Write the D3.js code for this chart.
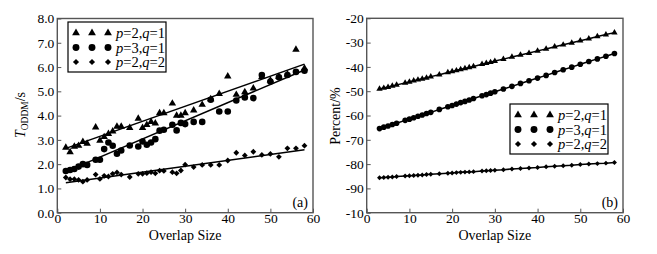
<!DOCTYPE html>
<html lang="en">
<head>
    <meta charset="UTF-8">
    <title>overlap size</title>
    <script src="https://d3js.org/d3.v7.min.js"></script>
    <style>
        body { margin: 0; background: #fff; }
        text { font-family: "Liberation Serif", "Times New Roman", serif; }
    </style>
</head>
<body>
    <svg></svg>
    <script>
        // panel (a): running time
        const xA = [2, 3, 4, 5, 6, 7, 9, 10, 11, 12, 13, 14, 15, 17, 19, 20, 21, 22, 23, 24, 25, 27, 28, 29, 30, 32, 34, 36, 38, 40, 42, 44, 46, 48, 50, 52, 54, 56, 58];
        const timeP2Q1 = [2.68, 2.5, 2.72, 2.76, 2.92, 2.85, 3.52, 2.97, 3.12, 3.25, 3.35, 3.55, 3.55, 3.5, 3.88, 3.5, 3.62, 3.74, 3.68, 4.1, 4.1, 4.5, 4.0, 4.0, 4.1, 4.22, 4.45, 4.68, 4.9, 5.62, 4.86, 4.97, 5.12, 5.6, 5.45, 5.6, 5.7, 6.72, 5.95];
        const timeP3Q1 = [1.72, 1.76, 1.8, 1.9, 2.0, 1.97, 2.18, 2.18, 2.62, 2.89, 2.76, 2.43, 2.56, 2.77, 2.73, 2.93, 2.8, 2.89, 3.03, 3.38, 3.42, 3.62, 3.39, 3.7, 3.65, 3.74, 3.74, 4.65, 4.17, 4.17, 4.62, 4.75, 4.72, 5.67, 5.4, 5.58, 5.67, 5.8, 5.85];
        const timeP2Q2 = [1.45, 1.38, 1.38, 1.35, 1.28, 1.35, 1.57, 1.39, 1.52, 1.49, 1.6, 1.66, 1.57, 1.47, 1.6, 1.6, 1.63, 1.67, 1.62, 1.73, 1.72, 1.67, 1.62, 1.74, 1.98, 1.88, 1.97, 1.97, 1.97, 2.15, 2.47, 2.36, 2.51, 2.38, 2.42, 2.3, 2.65, 2.65, 2.76];
        // fitted lines, value at x = 2 and x = 58
        const fitX = [2, 58];
        const fitP2Q1 = [2.65, 6.12];
        const fitP3Q1 = [1.69, 5.88];
        const fitP2Q2 = [1.23, 2.59];

        // panel (b): percent
        const xB = [3, 4, 5, 6, 7, 9, 10, 11, 12, 13, 14, 15, 17, 19, 20, 21, 22, 23, 24, 25, 27, 28, 29, 30, 32, 34, 36, 38, 40, 42, 44, 46, 48, 50, 52, 54, 56, 58];
        const pctP2Q1 = [-49.1, -48.7, -48.3, -47.8, -47.4, -46.6, -46.2, -45.7, -45.3, -44.9, -44.5, -44.0, -43.2, -42.3, -41.9, -41.5, -41.0, -40.6, -40.2, -39.8, -38.9, -38.5, -38.1, -37.6, -36.8, -35.9, -35.1, -34.3, -33.4, -32.6, -31.7, -30.9, -30.1, -29.2, -28.4, -27.5, -26.7, -25.9];
        const pctP3Q1 = [-65.4, -64.8, -64.3, -63.7, -63.2, -62.0, -61.5, -60.9, -60.3, -59.8, -59.2, -58.7, -57.5, -56.4, -55.9, -55.3, -54.7, -54.2, -53.6, -53.0, -51.9, -51.4, -50.8, -50.2, -49.1, -48.0, -46.8, -45.7, -44.6, -43.5, -42.3, -41.2, -40.1, -38.9, -37.8, -36.7, -35.6, -34.5];
        const pctP2Q2 = [-85.6, -85.5, -85.4, -85.3, -85.1, -84.9, -84.8, -84.7, -84.6, -84.5, -84.3, -84.2, -84.0, -83.8, -83.7, -83.5, -83.4, -83.3, -83.2, -83.1, -82.8, -82.7, -82.6, -82.5, -82.3, -82.0, -81.8, -81.6, -81.4, -81.1, -80.9, -80.7, -80.5, -80.2, -80.0, -79.8, -79.6, -79.3];

        const xTicks = [0, 10, 20, 30, 40, 50, 60];
        const yTicksA = [0, 1, 2, 3, 4, 5, 6, 7, 8];
        const yTicksB = [-20, -30, -40, -50, -60, -70, -80, -90, -100];
        const yLabelsB = ["-20", "-30", "-40", "-50", "-60", "-70", "-80", "-90", "-10"];
        const seriesNames = ["p=2,q=1", "p=3,q=1", "p=2,q=2"];
        const shapes = ["triangle", "circle", "diamond"];

        const svg = d3.select("svg").attr("width", 657).attr("height", 254);

        function marker(sel, shape, scale) {
            const s = scale || 1;
            if (shape === "circle") {
                sel.append("circle").attr("r", 3.3 * s).attr("fill", "#000");
            } else if (shape === "triangle") {
                sel.append("path").attr("d", d3.symbol(d3.symbolTriangle, 24 * s * s)()).attr("fill", "#000");
            } else {
                sel.append("path").attr("d", d3.symbol(d3.symbolSquare, 17 * s * s)())
                    .attr("transform", "rotate(45)").attr("fill", "#000");
            }
        }

        function panel(cfg) {
            const x = d3.scaleLinear().domain([0, 60]).range([cfg.left, cfg.right]);
            const y = d3.scaleLinear().domain(cfg.yDomain).range([cfg.bottom, cfg.top]);
            const g = svg.append("g");

            const xAxis = d3.axisBottom(x).tickValues(xTicks).tickSizeInner(-4).tickSizeOuter(0).tickPadding(1);
            const gx = g.append("g").attr("transform", `translate(0,${cfg.bottom})`).call(xAxis);
            gx.selectAll("text").attr("font-size", 13.5).attr("fill", "#000")
                .attr("font-family", "Liberation Serif");

            const yAxis = d3.axisLeft(y).tickValues(cfg.yTicks).tickSizeInner(-4).tickSizeOuter(0).tickPadding(3)
                .tickFormat((d, i) => cfg.yLabels[i]);
            const gy = g.append("g").attr("transform", `translate(${cfg.left},0)`).call(yAxis);
            gy.selectAll("text").attr("font-size", 13.5).attr("fill", "#000")
                .attr("font-family", "Liberation Serif");

            g.selectAll(".domain").remove();
            g.selectAll(".tick line").attr("stroke", "#555").attr("stroke-width", 1);

            g.append("rect")
                .attr("x", cfg.left).attr("y", cfg.top)
                .attr("width", cfg.right - cfg.left).attr("height", cfg.bottom - cfg.top)
                .attr("fill", "none").attr("stroke", "#555").attr("stroke-width", 1.4);

            // lines
            const line = d3.line().x(d => x(d[0])).y(d => y(d[1]));
            cfg.lines.forEach(l => {
                g.append("path").datum(l).attr("d", line)
                    .attr("fill", "none").attr("stroke", "#000").attr("stroke-width", 1.5);
            });

            // points
            cfg.series.forEach((s, k) => {
                g.selectAll(null).data(s.xs.map((v, i) => [v, s.ys[i]])).enter()
                    .append("g")
                    .attr("transform", d => `translate(${x(d[0])},${y(d[1])})`)
                    .each(function () { marker(d3.select(this), shapes[k], cfg.markScale); });
            });

            // legend
            const lg = g.append("g").attr("transform", `translate(${cfg.legend[0]},${cfg.legend[1]})`);
            lg.append("rect").attr("width", 98).attr("height", 50)
                .attr("fill", "#fff").attr("stroke", "#000").attr("stroke-width", 1.2);
            seriesNames.forEach((name, k) => {
                const row = lg.append("g").attr("transform", `translate(0,${11 + k * 14.5})`);
                [8, 24, 40].forEach(mx => {
                    const m = row.append("g").attr("transform", `translate(${mx},0)`);
                    marker(m, shapes[k], 1.05);
                });
                const t = row.append("text").attr("x", 48).attr("y", 5).attr("font-size", 14.5);
                const parts = name.split(/([pq])/).filter(p => p.length);
                parts.forEach(p => {
                    t.append("tspan").attr("font-style", (p === "p" || p === "q") ? "italic" : "normal").text(p);
                });
            });

            g.append("text").attr("x", cfg.right - 5).attr("y", cfg.bottom - 6)
                .attr("text-anchor", "end").attr("font-size", 14).text(cfg.tag);

            g.append("text").attr("x", (cfg.left + cfg.right) / 2).attr("y", 240)
                .attr("text-anchor", "middle").attr("font-size", 14).text("Overlap Size");

            return g;
        }

        panel({
            left: 57.3, right: 313, top: 18.5, bottom: 212.7,
            yDomain: [0, 8], yTicks: yTicksA, yLabels: yTicksA.map(d => d.toFixed(1)),
            series: [
                { xs: xA, ys: timeP2Q1 },
                { xs: xA, ys: timeP3Q1 },
                { xs: xA, ys: timeP2Q2 }
            ],
            lines: [fitP2Q1, fitP3Q1, fitP2Q2].map(f => fitX.map((v, i) => [v, f[i]])),
            legend: [68, 22], tag: "(a)", markScale: 1
        });

        panel({
            left: 366.7, right: 623, top: 18.3, bottom: 212.7,
            yDomain: [-100, -20], yTicks: yTicksB, yLabels: yLabelsB,
            series: [
                { xs: xB, ys: pctP2Q1 },
                { xs: xB, ys: pctP3Q1 },
                { xs: xB, ys: pctP2Q2 }
            ],
            lines: [pctP2Q1, pctP3Q1, pctP2Q2].map(s => xB.map((v, i) => [v, s[i]])),
            legend: [510, 104], tag: "(b)", markScale: 0.85
        });

        // y axis titles
        const ta = svg.append("text").attr("transform", "translate(25,115) rotate(-90)")
            .attr("text-anchor", "middle").attr("font-size", 14);
        ta.append("tspan").attr("font-style", "italic").text("T");
        ta.append("tspan").attr("font-size", 9.5).attr("dy", 3).text("ODDM");
        ta.append("tspan").attr("dy", -3).text("/s");

        svg.append("text").attr("transform", "translate(340,116) rotate(-90)")
            .attr("text-anchor", "middle").attr("font-size", 14).text("Percent/%");
    </script>
</body>
</html>
